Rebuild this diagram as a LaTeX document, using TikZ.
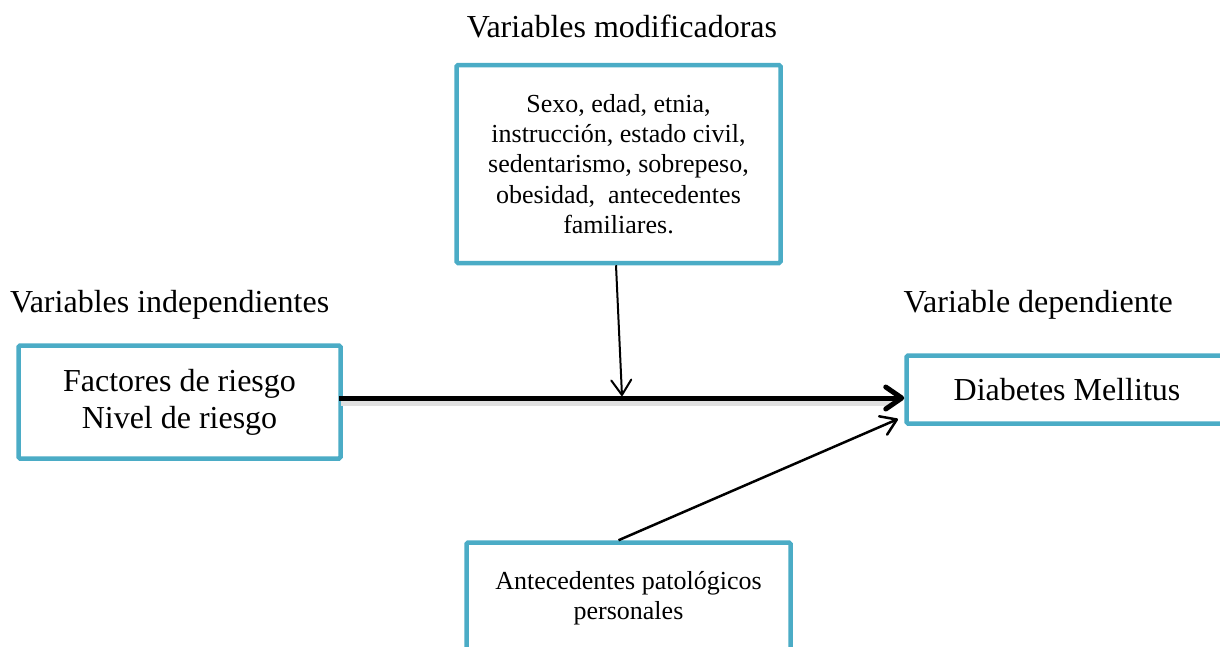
\documentclass[tikz,border=0pt]{standalone}
\usepackage{fontspec}
\setmainfont{Liberation Serif}
\usetikzlibrary{arrows.meta,calc}
\definecolor{boxblue}{RGB}{75,172,198}
\newcommand{\lowerby}[2]{\raisebox{-#1}{#2}}
\tikzset{
  vbox/.style={draw=boxblue, line width=4.5pt, rounded corners=1.5pt, fill=white, align=center, inner sep=0pt},
  bigtext/.style={font=\fontsize{32}{36.8}\selectfont},
  smalltext/.style={font=\fontsize{26}{30.3}\selectfont},
  mainarrow/.style={line width=5pt, -{Straight Barb[round,length=16pt,width=22pt]}},
  thinarrow/.style={line width=2pt, -{Straight Barb[round,length=15pt,width=20pt]}},
  shadowline/.style={line width=7pt, black!12},
}
\begin{document}
\begin{tikzpicture}[x=1pt,y=-1pt]
\useasboundingbox (0,0) rectangle (1220,646);
\clip (0,0) rectangle (1220,646);

% labels
\node[bigtext, anchor=base] (lmod) at (622,37) {Variables modificadoras};
\node[bigtext, anchor=base west, inner sep=0pt] (lind) at (10,312) {Variables independientes};
\node[bigtext, anchor=base east, inner sep=0pt] (ldep) at (1173,312) {Variable dependiente};

% boxes
\node[vbox, bigtext, minimum width=322pt, minimum height=113pt] (L) at (179.5,402) {\lowerby{4pt}{Factores de riesgo}\\\lowerby{4pt}{Nivel de riesgo}};
\node[vbox, smalltext, minimum width=324pt, minimum height=198pt] (T) at (618.5,164) {Sexo, edad, etnia,\\instrucción, estado civil,\\sedentarismo, sobrepeso,\\obesidad, \ antecedentes\\familiares.};
\node[vbox, bigtext, minimum width=321pt, minimum height=68pt] (R) at (1067,389.5) {Diabetes Mellitus};
\node[vbox, smalltext, minimum width=324pt, minimum height=111pt] (B) at (628.5,598) {\lowerby{2pt}{Antecedentes patológicos}\\\lowerby{2pt}{personales}};

% helper coordinates
\coordinate (mainy) at (0,398);
\coordinate (hit) at (622,396);
\coordinate (diagend) at (898,419);

% main arrow with soft shadow
\draw[shadowline] ([xshift=-4pt]L.east |- mainy) ++(2,4) -- ($(R.west |- mainy)+(-10,4)$);
\draw[mainarrow] ([xshift=-4pt]L.east |- mainy) -- (R.west |- mainy);

% modifier arrow
\draw[thinarrow] ([xshift=-2.5pt]T.south) -- (hit);

% antecedents arrow
\draw[thinarrow, line width=2.5pt] ([xshift=-10pt]B.north) -- (diagend);
\end{tikzpicture}
\end{document}
